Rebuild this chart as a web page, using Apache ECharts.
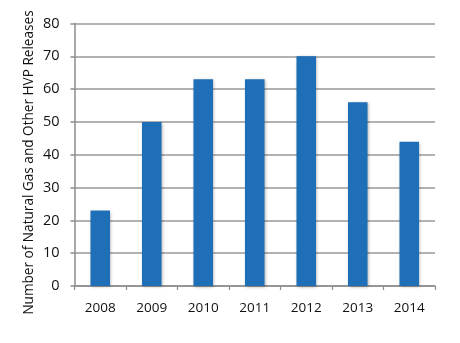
<!DOCTYPE html>
<html><head><meta charset="utf-8">
<script src="https://cdn.jsdelivr.net/npm/echarts@6/dist/echarts.min.js"></script>
<style>html,body{margin:0;padding:0;background:#fff}#c{width:460px;height:343px}</style>
</head><body><div id="c"></div>
<script>
const categories = ['2008','2009','2010','2011','2012','2013','2014'];
const releases = [23, 50, 63, 63, 70, 56, 44];
const yTicks = [0, 10, 20, 30, 40, 50, 60, 70, 80];
const yTitle = 'Number of Natural Gas and Other HVP Releases';

const chart = echarts.init(document.getElementById('c'), null, {renderer: 'canvas'});
const font = '"Open Sans", sans-serif';
chart.setOption({
  animation: false,
  grid: {left: 74.5, right: 25, top: 23.5, bottom: 57},
  graphic: [{
    type: 'text', x: 29, y: 162.5, rotation: Math.PI / 2,
    style: {text: yTitle, fill: '#111', font: '500 13.6px ' + font, textAlign: 'center', textVerticalAlign: 'middle'}
  }],
  xAxis: {
    type: 'category', data: categories,
    axisLine: {show: true, lineStyle: {color: '#8c8c8c', width: 1.5}},
    axisTick: {show: true, length: 4, lineStyle: {color: '#8c8c8c', width: 1.2}},
    axisLabel: {color: '#111', fontSize: 13.5, fontFamily: font, fontWeight: 500, margin: 15}
  },
  yAxis: {
    type: 'value', min: yTicks[0], max: yTicks[yTicks.length-1], interval: 10,
    axisLine: {show: true, lineStyle: {color: '#8c8c8c', width: 1.5}},
    axisTick: {show: true, length: 4, lineStyle: {color: '#8c8c8c', width: 1.5}},
    axisLabel: {color: '#111', fontSize: 14.5, fontFamily: font, fontWeight: 500, margin: 15},
    splitLine: {show: true, lineStyle: {color: '#999', width: 1.5}}
  },
  series: [{
    type: 'bar', data: releases, barWidth: '38%',
    itemStyle: {color: '#1e6fb8', shadowColor: 'rgba(0,0,0,0.3)', shadowBlur: 3, shadowOffsetX: 1, shadowOffsetY: 1}
  }]
});
</script></body></html>
